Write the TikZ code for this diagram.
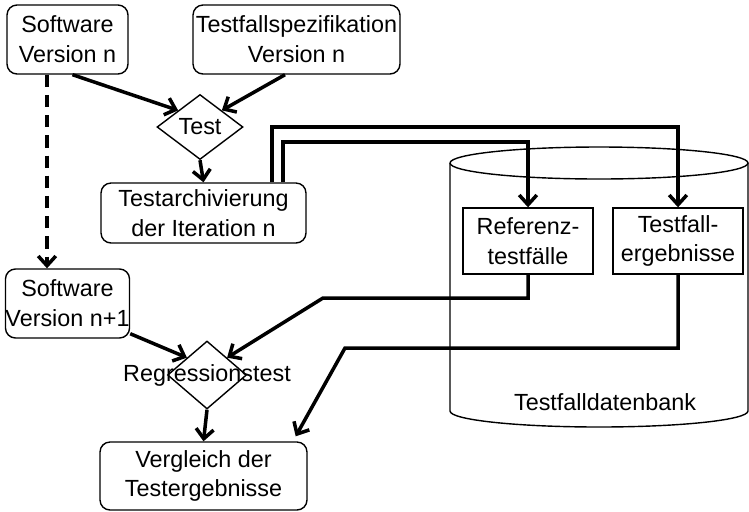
\documentclass[tikz,border=0pt]{standalone}
\usepackage{fontspec}
\setmainfont{Liberation Sans}
\usetikzlibrary{arrows.meta,shapes.geometric}

\tikzset{
  box/.style={draw, rounded corners=2mm, line width=0.8pt, align=center, inner sep=0pt},
  store/.style={draw, line width=0.8pt, align=center, inner sep=0pt,
    minimum width=2.6cm, minimum height=1.32cm},
  gate/.style={draw, diamond, line width=0.8pt, inner sep=0pt},
  flow/.style={line width=2pt, -{Straight Barb[length=5.5pt,width=10pt]}},
}

\begin{document}
\begin{tikzpicture}[x=0.02cm, y=-0.02cm, font=\fontsize{13.3}{17}\selectfont]
		\useasboundingbox (0,0) rectangle (749,511);
		% database cylinder
		\draw[line width=0.8pt] (599,163) ellipse[x radius=2.98cm, y radius=0.32cm];
		\draw[line width=0.8pt] (450,163) -- (450,411)
			arc[start angle=180, end angle=360, x radius=2.98cm, y radius=0.32cm] -- (748,163);
		\node (dbname) at (605,402) {Testfalldatenbank};
		% boxes
		\node[box, minimum width=2.42cm, minimum height=1.38cm] (swn) at (67.5,39.5) {Software\\Version n};
		\node[box, minimum width=4.14cm, minimum height=1.38cm] (spec) at (296.5,39.5) {Testfallspezifikation\\Version n};
		\node[gate, minimum width=1.72cm, minimum height=1.3cm, label=center:Test] (test) at (200,127) {};
		\node[box, minimum width=4.1cm, minimum height=1.2cm] (arch) at (203.5,213) {Testarchivierung\\der Iteration n};
		\node[store] (ref) at (528,241) {Referenz-\\testfälle};
		\node[store] (erg) at (678,241) {Testfall-\\ergebnisse};
		\node[box, minimum width=2.42cm, minimum height=1.38cm] (swn1) at (67.5,303.5) {Software\\Version n+1};
		\node[gate, minimum width=1.58cm, minimum height=1.36cm, label=center:Regressionstest] (reg) at (207,375) {};
		\node[box, minimum width=4.14cm, minimum height=1.36cm] (cmp) at (203.5,476) {Vergleich der\\Testergebnisse};
		% bends
		\coordinate (b1) at (272,127);
		\coordinate (b2) at (283,142);
		\coordinate (b3) at (323,298);
		\coordinate (b4) at (345,348);
		% connectors
		\draw[flow] ([xshift=1mm]swn.south) -- (test.north west);
		\draw[flow] ([xshift=-2.3mm]spec.south) -- (test.north east);
		\draw[flow] (test.south) -- (arch.north);
		\draw[flow] (arch.north -| b1) -- (b1) -| (erg.north);
		\draw[flow] (arch.north -| b2) -- (b2) -| (ref.north);
		\draw[flow, dash pattern=on 7pt off 4.5pt] ([xshift=-4.1mm]swn.south) -- ([xshift=-4.1mm]swn1.north);
		\draw[flow] ([yshift=1mm]swn1.south east) -- (reg.north west);
		\draw[flow] (ref.south) |- (b3) -- (reg.north east);
		\draw[flow] (erg.south) |- (b4) -- ([xshift=-2.4mm,yshift=1mm]cmp.north east);
		\draw[flow] (reg.south) -- (cmp.north);
	\end{tikzpicture}
\end{document}
